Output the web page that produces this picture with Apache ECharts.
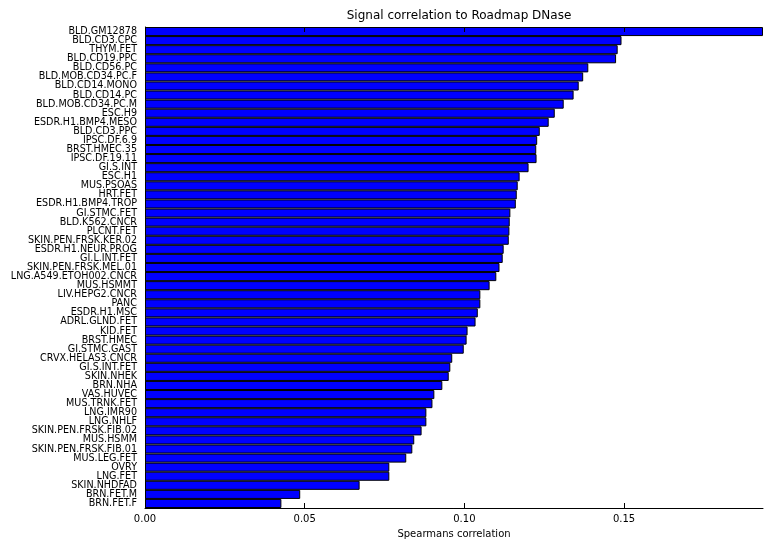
<!DOCTYPE html>
<html>
<head>
<meta charset="utf-8">
<script src="https://cdn.jsdelivr.net/npm/echarts@6/dist/echarts.min.js"></script>
<style>
  html, body { margin: 0; padding: 0; background: #fff; }
  #main { width: 773px; height: 549px; }
</style>
</head>
<body>
<div id="main"></div>
<script>
  // samples, top to bottom
  var categories = [
    'BLD.GM12878', 'BLD.CD3.CPC', 'THYM.FET', 'BLD.CD19.PPC', 'BLD.CD56.PC',
    'BLD.MOB.CD34.PC.F', 'BLD.CD14.MONO', 'BLD.CD14.PC', 'BLD.MOB.CD34.PC.M', 'ESC.H9',
    'ESDR.H1.BMP4.MESO', 'BLD.CD3.PPC', 'IPSC.DF.6.9', 'BRST.HMEC.35', 'IPSC.DF.19.11',
    'GI.S.INT', 'ESC.H1', 'MUS.PSOAS', 'HRT.FET', 'ESDR.H1.BMP4.TROP',
    'GI.STMC.FET', 'BLD.K562.CNCR', 'PLCNT.FET', 'SKIN.PEN.FRSK.KER.02', 'ESDR.H1.NEUR.PROG',
    'GI.L.INT.FET', 'SKIN.PEN.FRSK.MEL.01', 'LNG.A549.ETOH002.CNCR', 'MUS.HSMMT', 'LIV.HEPG2.CNCR',
    'PANC', 'ESDR.H1.MSC', 'ADRL.GLND.FET', 'KID.FET', 'BRST.HMEC',
    'GI.STMC.GAST', 'CRVX.HELAS3.CNCR', 'GI.S.INT.FET', 'SKIN.NHEK', 'BRN.NHA',
    'VAS.HUVEC', 'MUS.TRNK.FET', 'LNG.IMR90', 'LNG.NHLF', 'SKIN.PEN.FRSK.FIB.02',
    'MUS.HSMM', 'SKIN.PEN.FRSK.FIB.01', 'MUS.LEG.FET', 'OVRY', 'LNG.FET',
    'SKIN.NHDFAD', 'BRN.FET.M', 'BRN.FET.F'
  ];

  // spearman correlation per sample
  var values = [
    0.1935, 0.1492, 0.1480, 0.1475, 0.1388,
    0.1372, 0.1358, 0.1342, 0.1311, 0.1283,
    0.1264, 0.1236, 0.1228, 0.1225, 0.1226,
    0.1201, 0.1173, 0.1167, 0.1164, 0.1161,
    0.1144, 0.1142, 0.1141, 0.1139, 0.1123,
    0.1120, 0.1110, 0.1100, 0.1079, 0.1050,
    0.1050, 0.1042, 0.1035, 0.1010, 0.1007,
    0.0998, 0.0962, 0.0956, 0.0951, 0.0931,
    0.0906, 0.0900, 0.0881, 0.0881, 0.0866,
    0.0843, 0.0837, 0.0818, 0.0765, 0.0765,
    0.0672, 0.0486, 0.0427
  ];

  var xTicks = [0, 0.05, 0.10, 0.15];
  var xMax = 0.1935;

  var chart = echarts.init(document.getElementById('main'), null, {renderer: 'canvas'});
  var font = 'DejaVu Sans';

  var option = {
    animation: false,
    textStyle: { fontFamily: font },
    title: {
      text: 'Signal correlation to Roadmap DNase',
      left: 454,
      textAlign: 'center',
      top: 5,
      textStyle: { fontFamily: font, fontSize: 12, fontWeight: 'normal', color: '#000' }
    },
    grid: { left: 145, right: 10, top: 27, bottom: 41 },
    xAxis: [{
      type: 'value',
      position: 'bottom',
      min: 0,
      max: xMax,
      name: 'Spearmans correlation',
      nameLocation: 'middle',
      nameGap: 21,
      nameTextStyle: { fontFamily: font, fontSize: 10, color: '#000' },
      axisLine: { show: true, lineStyle: { color: '#000', width: 1 } },
      axisTick: { show: true, inside: true, length: 5, customValues: xTicks, lineStyle: { color: '#000' } },
      axisLabel: {
        customValues: xTicks,
        margin: 6,
        fontFamily: font, fontSize: 10, color: '#000',
        formatter: function (v) { return v.toFixed(2); }
      },
      splitLine: { show: false }
    }, {
      type: 'value',
      position: 'top',
      min: 0,
      max: xMax,
      z: 5,
      axisLine: { show: false },
      axisTick: { show: true, inside: true, length: 5, customValues: xTicks, lineStyle: { color: '#000' } },
      axisLabel: { show: false },
      splitLine: { show: false }
    }],
    yAxis: {
      type: 'category',
      data: categories,
      inverse: true,
      axisLine: { show: true, lineStyle: { color: '#000', width: 1 } },
      axisTick: { show: false },
      axisLabel: {
        interval: 0,
        margin: 8,
        fontFamily: font, fontSize: 9.6, color: '#000'
      }
    },
    series: [{
      type: 'bar',
      data: values,
      barCategoryGap: '0%',
      itemStyle: { color: '#0000ff', borderColor: '#000', borderWidth: 1 }
    }]
  };

  chart.setOption(option);
</script>
</body>
</html>
